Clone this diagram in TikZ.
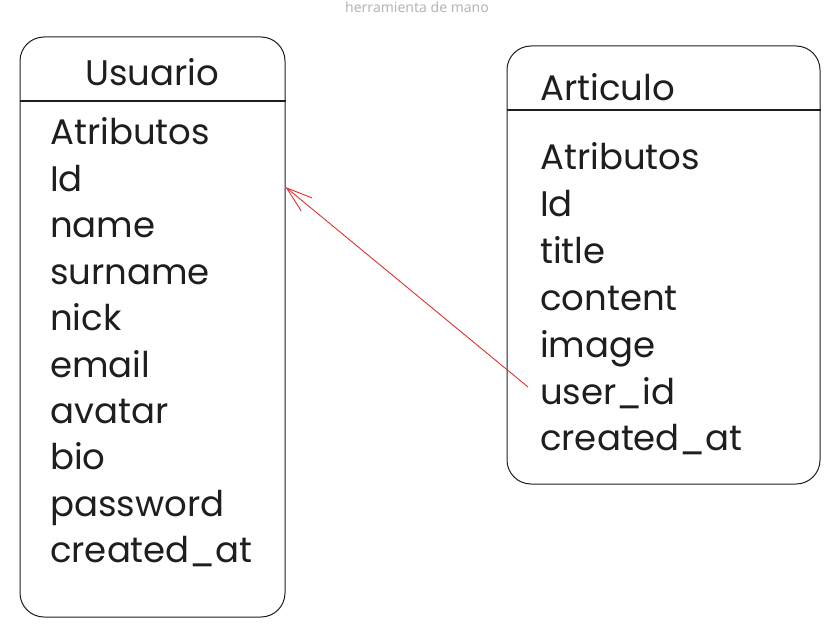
\documentclass[tikz,border=0pt]{standalone}
\usepackage{fontspec}
\setmainfont{Poppins}
\newfontfamily\hintfont{Noto Sans}
\usetikzlibrary{arrows.meta}

\definecolor{ink}{HTML}{1E1E1E}
\definecolor{fkred}{HTML}{E03131}
\definecolor{hint}{HTML}{B4B4B4}

\tikzset{
  entitybox/.style={draw=ink, line width=1pt, rounded corners=24pt, inner sep=0pt},
  divider/.style={draw=ink, line width=1.2pt},
  attr/.style={anchor=base west, inner sep=0pt, text=ink, font=\fontsize{35.5}{36}\selectfont},
  entityname/.style={attr, anchor=base},
  fkline/.style={draw=fkred, line width=0.9pt, -{Straight Barb[length=26pt, width=17pt, line width=0.9pt]}},
}

\begin{document}
\begin{tikzpicture}[x=1pt, y=-1pt]
  \useasboundingbox (0,0) rectangle (835,631);

  % hint at the top
  \node[anchor=base, inner sep=0pt, text=hint, font=\hintfont\fontsize{14}{14}\selectfont] (tool) at (417,13) {herramienta de mano};

  % Usuario
  \node[entitybox, minimum width=265pt, minimum height=580pt] (usuario) at (152.5,327) {};
  \draw[divider] (usuario.west |- 0,101) -- (usuario.east |- 0,101);
  \node[entityname] (usuarioname) at (152,86) {Usuario};
  \foreach \field [count=\i] in {Atributos, Id, name, surname, nick, email, avatar, bio, password, created\_at}
    \node[attr] (u\i) at (50,{145+(\i-1)*46.4}) {\field};

  % Articulo
  \node[entitybox, minimum width=313pt, minimum height=438pt] (articulo) at (663.5,265) {};
  \draw[divider] (articulo.west |- 0,110) -- (articulo.east |- 0,110);
  \node[attr] (articuloname) at (540,101) {Articulo};
  \foreach \field [count=\i] in {Atributos, Id, title, content, image, user\_id, created\_at}
    \node[attr] (a\i) at (540,{170+(\i-1)*46.8}) {\field};

  % user_id -> Id
  \coordinate (fk) at (528,387);
  \coordinate (pk) at (usuario.east |- 0,187);
  \draw[fkline] (fk) -- (pk);
\end{tikzpicture}
\end{document}
